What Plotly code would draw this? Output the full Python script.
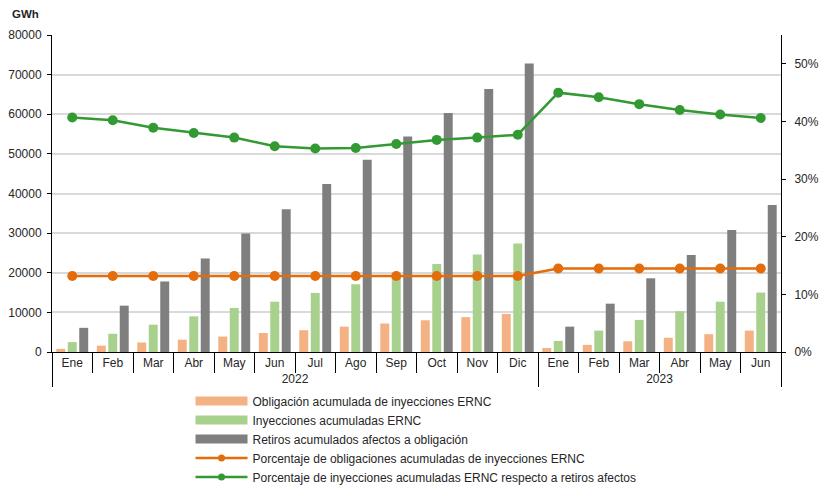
import plotly.graph_objects as go

# Meses y años del eje de categorías
meses = ["Ene", "Feb", "Mar", "Abr", "May", "Jun", "Jul", "Ago", "Sep", "Oct", "Nov", "Dic",
         "Ene", "Feb", "Mar", "Abr", "May", "Jun"]
anios = ["2022"] * 12 + ["2023"] * 6

# Energía acumulada (GWh)
obligacion = [800, 1600, 2400, 3100, 3900, 4800, 5500, 6400, 7200, 8000, 8800, 9600,
              1000, 1800, 2700, 3600, 4500, 5400]
inyecciones = [2500, 4600, 6900, 9000, 11100, 12700, 14900, 17100, 18900, 22200, 24600, 27400,
               2800, 5400, 8100, 10300, 12700, 15000]
retiros = [6100, 11700, 17800, 23600, 29900, 36000, 42400, 48500, 54400, 60300, 66400, 72800,
           6400, 12200, 18600, 24500, 30800, 37100]

# Porcentajes (eje derecho)
pct_obligacion = [0.132, 0.132, 0.132, 0.132, 0.132, 0.132, 0.132, 0.132, 0.132, 0.132, 0.132, 0.132,
                  0.145, 0.145, 0.145, 0.145, 0.145, 0.145]
pct_inyecciones = [0.407, 0.402, 0.389, 0.380, 0.372, 0.357, 0.353, 0.354, 0.361, 0.368, 0.372, 0.377,
                   0.450, 0.442, 0.430, 0.420, 0.412, 0.406]

x = [anios, meses]

C_OBL = "#F4B183"
C_INY = "#A9D18E"
C_RET = "#7F7F7F"
C_LOBL = "#E46C0A"
C_LINY = "#339933"
FONT = "Liberation Sans"
TXT = "#262626"

fig = go.Figure()

bar_series = [
    ("Obligación acumulada de inyecciones ERNC", obligacion, C_OBL),
    ("Inyecciones acumuladas ERNC", inyecciones, C_INY),
    ("Retiros acumulados afectos a obligación", retiros, C_RET),
]
for name, vals, col in bar_series:
    fig.add_trace(go.Bar(x=x, y=vals, name=name, marker=dict(color=col, line=dict(width=0)),
                         showlegend=False, yaxis="y"))

line_series = [
    ("Porcentaje de obligaciones acumuladas de inyecciones ERNC", pct_obligacion, C_LOBL),
    ("Porcentaje de inyecciones acumuladas ERNC respecto a retiros afectos", pct_inyecciones, C_LINY),
]
for name, vals, col in line_series:
    fig.add_trace(go.Scatter(x=x, y=vals, name=name, mode="lines+markers",
                             line=dict(color=col, width=2.5), marker=dict(color=col, size=10),
                             showlegend=False, yaxis="y2"))

# Entradas de leyenda: bloques anchos para las barras, línea con marcador para las series
for name, _, col in bar_series:
    fig.add_trace(go.Scatter(x=[None], y=[None], name=name, mode="lines",
                             line=dict(color=col, width=9), yaxis="y"))
for name, _, col in line_series:
    fig.add_trace(go.Scatter(x=[None], y=[None], name=name, mode="lines+markers",
                             line=dict(color=col, width=2.5), marker=dict(color=col, size=7), yaxis="y2"))

fig.update_layout(
    width=819, height=485,
    margin=dict(l=52, r=38, t=35, b=133, autoexpand=False),
    paper_bgcolor="white", plot_bgcolor="white",
    font=dict(family=FONT, size=12, color=TXT),
    barmode="group", bargap=0.15, bargroupgap=0.22,
    showlegend=True,
    legend=dict(x=0.19, y=0.203, xref="paper", yref="container", xanchor="left", yanchor="top",
                traceorder="normal", itemwidth=52, font=dict(family=FONT, size=12, color=TXT),
                bgcolor="rgba(0,0,0,0)", itemclick=False),
    xaxis=dict(type="multicategory", range=[-0.5, 17.5], autorange=False, automargin=False,
               showline=True, linecolor="black", linewidth=1,
               ticks="outside", ticklen=20, tickcolor="black", tickwidth=1,
               showdividers=True, dividercolor="black", dividerwidth=1,
               tickfont=dict(family=FONT, size=12, color=TXT), showgrid=False),
    yaxis=dict(range=[0, 80000], dtick=10000, showline=True, linecolor="black", linewidth=1,
               ticks="outside", ticklen=4, tickcolor="black", gridcolor="#D9D9D9", gridwidth=1.5,
               tickfont=dict(family=FONT, size=12, color=TXT), zeroline=False, tickformat="d",
               automargin=False, ticklabelstandoff=3),
    yaxis2=dict(range=[0, 0.55], dtick=0.1, overlaying="y", side="right", tickformat=".0%",
                showline=True, linecolor="black", linewidth=1, ticks="outside", ticklen=4,
                tickcolor="black", showgrid=False, zeroline=False, automargin=False,
                ticklabelstandoff=6, tickfont=dict(family=FONT, size=12, color=TXT)),
    annotations=[dict(text="<b>GWh</b>", xref="paper", yref="paper", x=-0.058, y=1.04,
                      xanchor="left", yanchor="bottom", showarrow=False,
                      font=dict(family=FONT, size=11.5, color=TXT))],
)

fig.write_html("out.html")
